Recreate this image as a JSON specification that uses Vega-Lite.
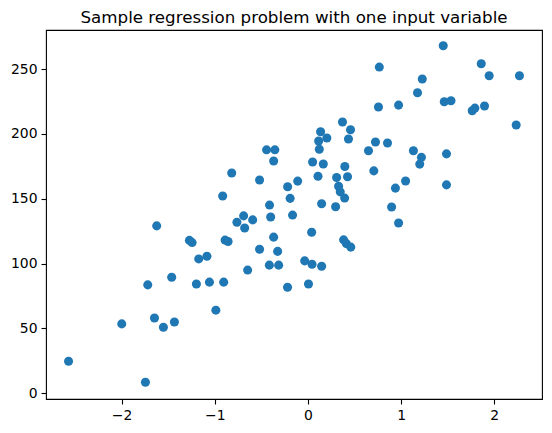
{
  "$schema": "https://vega.github.io/schema/vega-lite/v6.json",
  "autosize": {"type": "none"},
  "padding": {"left": 46, "top": 30, "right": 10, "bottom": 34},
  "width": 496,
  "height": 369,
  "background": "white",
  "title": {
    "text": "Sample regression problem with one input variable",
    "font": "DejaVu Sans",
    "fontSize": 16.7,
    "fontWeight": "normal",
    "color": "black",
    "anchor": "middle",
    "baseline": "bottom",
    "offset": 4,
    "dy": 18
  },
  "config": {
    "view": {"stroke": "black", "strokeWidth": 1.1},
    "axis": {
      "domain": false,
      "grid": false,
      "ticks": true,
      "tickColor": "black",
      "tickWidth": 1.1,
      "tickSize": 5,
      "labelFont": "DejaVu Sans",
      "labelFontSize": 13.9,
      "labelColor": "black",
      "labelPadding": 4,
      "title": null
    }
  },
  "data": {
    "values": [
      {"x": -2.569, "y": 24.7}, {"x": -1.998, "y": 53.5}, {"x": -1.744, "y": 8.5}, {"x": -1.719, "y": 83.6},
      {"x": -1.647, "y": 58.1}, {"x": -1.623, "y": 129.1}, {"x": -1.551, "y": 50.9}, {"x": -1.462, "y": 89.5},
      {"x": -1.433, "y": 55.0}, {"x": -1.272, "y": 117.9}, {"x": -1.243, "y": 116.2}, {"x": -1.197, "y": 84.3},
      {"x": -1.172, "y": 103.6}, {"x": -1.084, "y": 105.7}, {"x": -1.057, "y": 85.7}, {"x": -0.988, "y": 64.1},
      {"x": -0.915, "y": 152.1}, {"x": -0.904, "y": 85.7}, {"x": -0.889, "y": 118.1}, {"x": -0.857, "y": 117.0},
      {"x": -0.818, "y": 169.8}, {"x": -0.762, "y": 131.9}, {"x": -0.690, "y": 136.8}, {"x": -0.679, "y": 127.4},
      {"x": -0.647, "y": 95.0}, {"x": -0.593, "y": 133.7}, {"x": -0.519, "y": 164.4}, {"x": -0.519, "y": 111.1},
      {"x": -0.444, "y": 187.7}, {"x": -0.355, "y": 187.7}, {"x": -0.368, "y": 179.1}, {"x": -0.412, "y": 145.1},
      {"x": -0.400, "y": 135.9}, {"x": -0.368, "y": 120.4}, {"x": -0.325, "y": 109.4}, {"x": -0.414, "y": 98.8},
      {"x": -0.314, "y": 98.8}, {"x": -0.218, "y": 159.2}, {"x": -0.110, "y": 163.6}, {"x": -0.191, "y": 150.3},
      {"x": -0.165, "y": 137.4}, {"x": -0.219, "y": 81.8}, {"x": -0.035, "y": 102.1}, {"x": 0.006, "y": 84.3},
      {"x": 0.044, "y": 99.5}, {"x": 0.147, "y": 98.0}, {"x": 0.040, "y": 124.2}, {"x": 0.050, "y": 178.3},
      {"x": 0.108, "y": 167.3}, {"x": 0.165, "y": 176.8}, {"x": 0.136, "y": 201.6}, {"x": 0.115, "y": 194.5},
      {"x": 0.203, "y": 196.8}, {"x": 0.122, "y": 188.1}, {"x": 0.147, "y": 146.1}, {"x": 0.297, "y": 143.8},
      {"x": 0.308, "y": 166.4}, {"x": 0.396, "y": 174.8}, {"x": 0.425, "y": 166.9}, {"x": 0.329, "y": 159.6},
      {"x": 0.347, "y": 155.3}, {"x": 0.394, "y": 150.5}, {"x": 0.371, "y": 209.2}, {"x": 0.457, "y": 203.2},
      {"x": 0.435, "y": 196.1}, {"x": 0.383, "y": 118.3}, {"x": 0.412, "y": 115.4}, {"x": 0.460, "y": 112.7},
      {"x": 0.650, "y": 187.0}, {"x": 0.725, "y": 193.7}, {"x": 0.854, "y": 193.0}, {"x": 0.707, "y": 171.5},
      {"x": 0.757, "y": 220.7}, {"x": 0.766, "y": 251.5}, {"x": 0.973, "y": 222.2}, {"x": 0.939, "y": 158.2},
      {"x": 1.048, "y": 163.7}, {"x": 0.898, "y": 143.6}, {"x": 0.973, "y": 131.3}, {"x": 1.132, "y": 187.0},
      {"x": 1.218, "y": 181.9}, {"x": 1.200, "y": 176.7}, {"x": 1.176, "y": 231.7}, {"x": 1.227, "y": 242.3},
      {"x": 1.452, "y": 268.0}, {"x": 1.463, "y": 224.8}, {"x": 1.535, "y": 225.5}, {"x": 1.487, "y": 184.6},
      {"x": 1.487, "y": 160.7}, {"x": 1.763, "y": 217.8}, {"x": 1.792, "y": 219.9}, {"x": 1.895, "y": 221.5},
      {"x": 1.860, "y": 254.1}, {"x": 1.945, "y": 244.8}, {"x": 2.270, "y": 244.8}, {"x": 2.235, "y": 206.8}
    ]
  },
  "mark": {"type": "circle", "size": 82, "color": "#1f77b4", "opacity": 1},
  "encoding": {
    "x": {
      "field": "x",
      "type": "quantitative",
      "scale": {"domain": [-2.811, 2.512], "nice": false, "zero": false},
      "axis": {"values": [-2, -1, 0, 1, 2], "format": "d"}
    },
    "y": {
      "field": "y",
      "type": "quantitative",
      "scale": {"domain": [-4.4, 280.1], "nice": false, "zero": false},
      "axis": {"values": [0, 50, 100, 150, 200, 250], "format": "d"}
    }
  }
}
